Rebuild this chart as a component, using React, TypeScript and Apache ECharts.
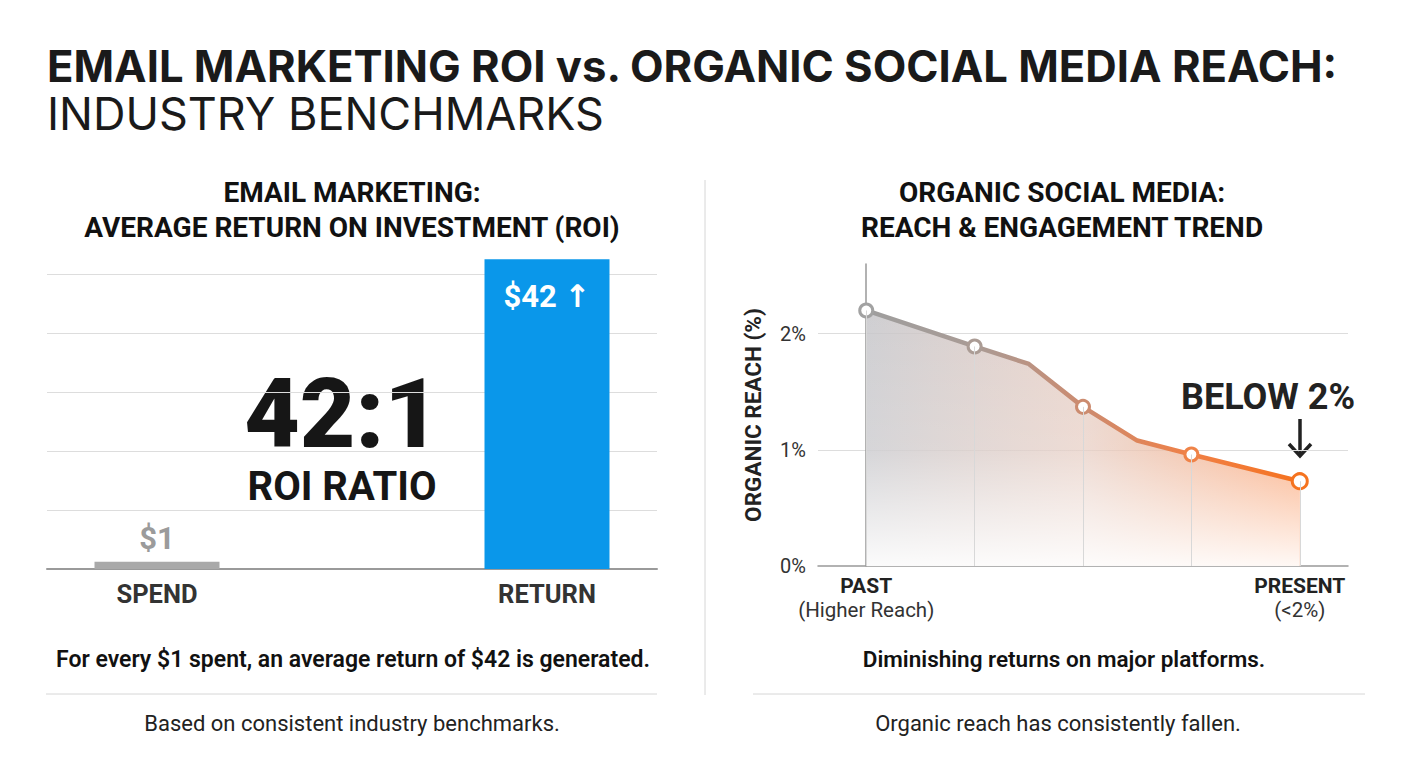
import React, { useEffect, useRef } from "react";
import * as echarts from "echarts";

// ---- data ----
const roiCategories = ["SPEND", "", "RETURN"];
const roiValues = [1, null, 42];
const roiLabels = ["$1", "", "$42 ↑"];

const trendSteps = [0, 2, 3, 4, 5, 6, 8];
const reachValues = [2.2, 1.89, 1.74, 1.37, 1.08, 0.96, 0.73];
const markedPoint = [true, true, false, true, false, true, true];
const markerColors = ["#a2a2a2", "#ab9c95", "", "#cc8c70", "", "#ef8348", "#f5731f"];
const trendEndLabels = [
  { step: 0, main: "PAST", sub: "(Higher Reach)" },
  { step: 8, main: "PRESENT", sub: "(<2%)" },
];
const reachTicks = [0, 1, 2];

const FONT = "Roboto, 'DejaVu Sans', sans-serif";
const TITLE_FONT = "Inter, Roboto, sans-serif";

export default function App() {
  const ref = useRef<HTMLDivElement>(null);

  useEffect(() => {
    document.body.style.margin = "0";
    const chart = echarts.init(ref.current!, null, { renderer: "svg" });

    const lineData = trendSteps.map((s, i) => [s, reachValues[i]]);
    const lineDataStyled = trendSteps.map((s, i) =>
      markedPoint[i]
        ? {
            value: [s, reachValues[i]],
            symbol: "circle",
            symbolSize: i === trendSteps.length - 1 ? 15 : 13,
            itemStyle: { color: "#ffffff", borderColor: markerColors[i], borderWidth: 3 },
          }
        : { value: [s, reachValues[i]], symbol: "none" }
    );
    const dropLines = trendSteps
      .map((s, i) => (markedPoint[i] ? [{ coord: [s, 0] }, { coord: [s, reachValues[i]] }] : null))
      .filter(Boolean);

    const text = (
      x: number,
      y: number,
      t: string,
      size: number,
      weight: string | number,
      fill: string,
      family = FONT,
      align = "center"
    ) => ({
      type: "text",
      x,
      y,
      silent: true,
      style: {
        text: t,
        fill,
        fontSize: size,
        fontWeight: weight,
        fontFamily: family,
        lineHeight: Math.round(size * 1.0),
        align,
        verticalAlign: "middle",
      },
    });

    const option: any = {
      animation: false,
      backgroundColor: "#ffffff",
      grid: [
        { left: 47, width: 610, top: 274, bottom: 199 },
        { left: 59.5, width: 585, top: 274, bottom: 199 },
        { left: 818, right: 60, top: 264, bottom: 202 },
      ],
      xAxis: [
        {
          type: "value",
          gridIndex: 0,
          min: 0,
          max: 1,
          axisLine: { show: true, lineStyle: { color: "#9a9a9a", width: 2 } },
          axisTick: { show: false },
          axisLabel: { show: false },
          splitLine: { show: false },
        },
        {
          type: "category",
          gridIndex: 1,
          data: roiCategories,
          axisLine: { show: false },
          axisTick: { show: false },
          axisLabel: {
            color: "#333333",
            fontSize: 25.5,
            fontWeight: "bold",
            fontFamily: FONT,
            margin: 12,
          },
        },
        {
          type: "value",
          gridIndex: 2,
          min: -0.89,
          max: 8.89,
          axisLine: { show: true, lineStyle: { color: "#999999", width: 1.5 } },
          axisTick: { show: false },
          splitLine: { show: false },
          axisLabel: {
            customValues: trendEndLabels.map((d) => d.step),
            margin: 8,
            formatter: (v: number) => {
              const d = trendEndLabels.find((e) => e.step === v);
              return d ? `{b|${d.main}}\n{r|${d.sub}}` : "";
            },
            rich: {
              b: { fontSize: 21, fontWeight: "bold", color: "#222222", fontFamily: FONT, lineHeight: 24 },
              r: { fontSize: 20.5, color: "#333333", fontFamily: FONT, lineHeight: 24 },
            },
          },
        },
      ],
      yAxis: [
        {
          type: "value",
          gridIndex: 0,
          min: 0,
          max: 40,
          interval: 8,
          axisLine: { show: false },
          axisTick: { show: false },
          axisLabel: { show: false },
          splitLine: { show: true, lineStyle: { color: "#dddddd", width: 1 } },
        },
        {
          type: "value",
          gridIndex: 1,
          min: 0,
          max: 40,
          show: false,
        },
        {
          type: "value",
          gridIndex: 2,
          min: 0,
          max: 2.6,
          interval: 1,
          name: "ORGANIC REACH (%)",
          nameLocation: "middle",
          nameGap: 54,
          nameRotate: 90,
          nameTextStyle: { fontSize: 22.5, fontWeight: "bold", color: "#222222", fontFamily: FONT },
          axisLine: { show: true, lineStyle: { color: "#999999", width: 1.5 } },
          axisTick: { show: false },
          axisLabel: {
            customValues: reachTicks,
            formatter: "{value}%",
            color: "#333333",
            fontSize: 20,
            fontFamily: FONT,
            margin: 12,
          },
          splitLine: {
            show: true,
            showMaxLine: false,
            showMinLine: false,
            lineStyle: { color: "#dddddd", width: 1 },
          },
        },
      ],
      series: [
        {
          type: "bar",
          xAxisIndex: 1,
          yAxisIndex: 1,
          barWidth: 125,
          clip: false,
          data: roiValues.map((v, i) =>
            v == null
              ? "-"
              : {
                  value: v,
                  itemStyle: { color: i === 0 ? "#a9a9a9" : "#0a97ea" },
                  label: {
                    show: true,
                    formatter: roiLabels[i],
                    position: i === 0 ? "top" : "insideTop",
                    distance: i === 0 ? 8 : 22,
                    color: i === 0 ? "#9b9b9b" : "#ffffff",
                    fontSize: 31,
                    fontWeight: "bold",
                    fontFamily: FONT,
                  },
                }
          ),
        },
        {
          type: "line",
          xAxisIndex: 2,
          yAxisIndex: 2,
          data: lineData,
          symbol: "none",
          lineStyle: { width: 0 },
          z: 1,
          areaStyle: {
            opacity: 1,
            color: new echarts.graphic.LinearGradient(0, 0, 1, 0, [
              { offset: 0, color: "rgba(198,198,202,0.85)" },
              { offset: 0.5, color: "rgba(226,196,184,0.7)" },
              { offset: 1, color: "rgba(250,150,95,0.8)" },
            ]),
          },
        },
        {
          type: "line",
          xAxisIndex: 2,
          yAxisIndex: 2,
          data: lineData,
          symbol: "none",
          lineStyle: { width: 0 },
          z: 2,
          areaStyle: {
            opacity: 1,
            color: new echarts.graphic.LinearGradient(0, 0, 0, 1, [
              { offset: 0, color: "rgba(255,255,255,0)" },
              { offset: 0.55, color: "rgba(255,255,255,0.15)" },
              { offset: 1, color: "rgba(255,255,255,0.92)" },
            ]),
          },
          markLine: {
            silent: true,
            symbol: ["none", "none"],
            label: { show: false },
            lineStyle: { color: "#d8d8d8", width: 1, type: "solid" },
            data: dropLines,
          },
        },
        {
          type: "line",
          xAxisIndex: 2,
          yAxisIndex: 2,
          data: lineDataStyled,
          z: 3,
          lineStyle: {
            width: 4.5,
            color: new echarts.graphic.LinearGradient(0, 0, 1, 0, [
              { offset: 0, color: "#9e9e9e" },
              { offset: 0.25, color: "#a99b95" },
              { offset: 0.5, color: "#cc8b70" },
              { offset: 0.75, color: "#f08046" },
              { offset: 1, color: "#f5721f" },
            ]),
          },
        },
      ],
      graphic: [
        {
          type: "text",
          x: 47,
          y: 42.5,
          silent: true,
          style: {
            text: "{a|EMAIL MARKETING ROI vs. ORGANIC SOCIAL MEDIA REACH:}\n{b|INDUSTRY BENCHMARKS}",
            align: "left",
            verticalAlign: "top",
            rich: {
              a: { fontSize: 43.6, fontWeight: "bold", fontFamily: TITLE_FONT, fill: "#1a1a1a", lineHeight: 47 },
              b: { fontSize: 45, fontWeight: "normal", fontFamily: TITLE_FONT, fill: "#1a1a1a", lineHeight: 47 },
            },
          },
        },
        text(352, 192, "EMAIL MARKETING:", 28, "bold", "#111111"),
        text(352, 227, "AVERAGE RETURN ON INVESTMENT (ROI)", 28, "bold", "#111111"),
        text(1062, 192, "ORGANIC SOCIAL MEDIA:", 28, "bold", "#111111"),
        text(1062, 227, "REACH & ENGAGEMENT TREND", 28, "bold", "#111111"),
        {
          type: "text",
          x: 342,
          y: 364,
          silent: true,
          style: {
            text: "{a|42:1}\n{b|ROI RATIO}",
            align: "center",
            verticalAlign: "top",
            rich: {
              a: { fontSize: 96, fontWeight: 900, fontFamily: FONT, fill: "#161616", lineHeight: 100, align: "center" },
              b: { fontSize: 40, fontWeight: "bold", fontFamily: FONT, fill: "#161616", lineHeight: 44, align: "center" },
            },
          },
        },
        text(1268, 397, "BELOW 2%", 36, "bold", "#222222"),
        {
          type: "line",
          silent: true,
          shape: { x1: 1300, y1: 419, x2: 1300, y2: 456 },
          style: { stroke: "#222222", lineWidth: 3.5 },
        },
        {
          type: "polyline",
          silent: true,
          shape: { points: [[1289, 444], [1300, 456], [1311, 444]] },
          style: { stroke: "#222222", lineWidth: 3.5, fill: "none" },
        },
        text(353, 659, "For every $1 spent, an average return of $42 is generated.", 23, 600, "#111111"),
        text(352, 723, "Based on consistent industry benchmarks.", 22, "normal", "#222222"),
        text(1064, 659, "Diminishing returns on major platforms.", 22.5, 600, "#111111"),
        text(1058, 723, "Organic reach has consistently fallen.", 22, "normal", "#222222"),
        {
          type: "line",
          silent: true,
          shape: { x1: 705, y1: 180, x2: 705, y2: 695 },
          style: { stroke: "#d6d6d6", lineWidth: 1 },
        },
        {
          type: "line",
          silent: true,
          shape: { x1: 46, y1: 694, x2: 657, y2: 694 },
          style: { stroke: "#d6d6d6", lineWidth: 1 },
        },
        {
          type: "line",
          silent: true,
          shape: { x1: 753, y1: 694, x2: 1365, y2: 694 },
          style: { stroke: "#d6d6d6", lineWidth: 1 },
        },
      ],
    };

    chart.setOption(option);
    return () => chart.dispose();
  }, []);

  return (
    <div
      ref={ref}
      style={{ position: "absolute", left: 0, top: 0, width: 1408, height: 768 }}
    />
  );
}
